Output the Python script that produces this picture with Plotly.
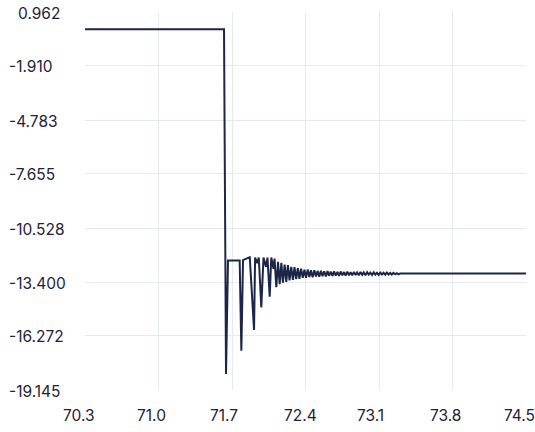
import plotly.graph_objects as go

# Step region: level, big drop, spikes
x_head = [70.30, 71.624, 71.643, 71.662, 71.773, 71.789, 71.805, 71.869, 71.910, 71.920,
          71.940, 71.955, 71.979, 72.000, 72.024, 72.038, 72.059, 72.074, 72.095, 72.105, 72.122]
y_head = [0.05, 0.05, -18.29, -12.26, -12.26, -17.05, -12.24, -12.08, -15.95, -12.10,
          -12.40, -12.10, -14.75, -12.10, -12.60, -12.10, -14.18, -12.10, -12.70, -12.15, -13.67]

# Decaying ringing region
x_ring = [72.138, 72.154, 72.170, 72.185, 72.201, 72.217, 72.232, 72.248, 72.264, 72.280,
          72.295, 72.311, 72.327, 72.342, 72.358, 72.374, 72.390, 72.405, 72.421, 72.437,
          72.452, 72.468, 72.484, 72.500, 72.515, 72.531, 72.547, 72.562, 72.578, 72.594,
          72.610, 72.625, 72.641, 72.657, 72.672, 72.688, 72.704, 72.720, 72.735, 72.751,
          72.767, 72.782, 72.798, 72.814, 72.830, 72.845, 72.861, 72.877, 72.892, 72.908,
          72.924, 72.940, 72.955, 72.971, 72.987, 73.002, 73.018, 73.034, 73.050, 73.065,
          73.081, 73.097, 73.112, 73.128, 73.144, 73.160, 73.175, 73.191, 73.207, 73.222,
          73.238, 73.254, 73.270, 73.285, 73.301]
y_ring = [-12.33, -13.52, -12.38, -13.44, -12.47, -13.40, -12.50, -13.31, -12.60, -13.29,
          -12.61, -13.24, -12.67, -13.23, -12.69, -13.18, -12.74, -13.18, -12.74, -13.14,
          -12.78, -13.15, -12.77, -13.11, -12.81, -13.12, -12.80, -13.09, -12.83, -13.10,
          -12.82, -13.07, -12.85, -13.08, -12.83, -13.06, -12.86, -13.07, -12.84, -13.05,
          -12.87, -13.06, -12.85, -13.04, -12.88, -13.05, -12.86, -13.03, -12.89, -13.04,
          -12.87, -13.02, -12.89, -13.04, -12.88, -13.01, -12.90, -13.03, -12.89, -13.01,
          -12.91, -13.02, -12.90, -13.00, -12.91, -13.01, -12.90, -13.00, -12.92, -13.00,
          -12.91, -12.99, -12.93, -12.99, -12.95]

# Settled tail
x_tail = [74.50]
y_tail = [-12.95]

x_vals = x_head + x_ring + x_tail
y_vals = y_head + y_ring + y_tail

y_ticks = [0.962, -1.910, -4.783, -7.655, -10.528, -13.400, -16.272, -19.145]
y_labels = ["0.962", "-1.910", "-4.783", "-7.655", "-10.528", "-13.400", "-16.272", "-19.145"]
x_ticks = [70.3, 71.0, 71.7, 72.4, 73.1, 73.8, 74.5]
x_labels = ["70.3", "71.0", "71.7", "72.4", "73.1", "73.8", "74.5"]

label_font = dict(family="Inter, sans-serif", size=15.5, color="#1f2236")

fig = go.Figure()
fig.add_trace(go.Scatter(x=x_vals, y=y_vals, mode="lines",
                         line=dict(color="#1c2648", width=2), hoverinfo="skip"))

# Left-aligned tick labels (as in the reference)
for v, t in zip(y_ticks, y_labels):
    fig.add_annotation(x=0, xref="paper", y=v, yref="y", text=t, showarrow=False,
                       xanchor="left", yanchor="middle",
                       xshift=-78 if t.startswith("-") else -69, yshift=-1,
                       font=label_font)
for v, t in zip(x_ticks, x_labels):
    fig.add_annotation(x=v, xref="x", y=0, yref="paper", text=t, showarrow=False,
                       xanchor="left", yanchor="middle", xshift=-24, yshift=-25,
                       font=label_font)

grid = "#e5e9f2"
fig.update_layout(
    width=535, height=432,
    margin=dict(l=85, r=9, t=12, b=42, autoexpand=False),
    paper_bgcolor="white", plot_bgcolor="white",
    showlegend=False,
    font=label_font,
)
fig.update_xaxes(range=[70.2999, 74.5001], tickvals=x_ticks, showticklabels=False,
                 automargin=False,
                 showgrid=True, gridcolor=grid, gridwidth=1, zeroline=False,
                 showline=False, ticks="")
fig.update_yaxes(range=[-19.1451, 0.9621], tickvals=y_ticks, showticklabels=False,
                 automargin=False,
                 showgrid=True, gridcolor=grid, gridwidth=1, zeroline=False,
                 showline=False, ticks="")

fig.write_html("out.html", config={"displayModeBar": False},
               post_script="document.body.style.margin='0';")
